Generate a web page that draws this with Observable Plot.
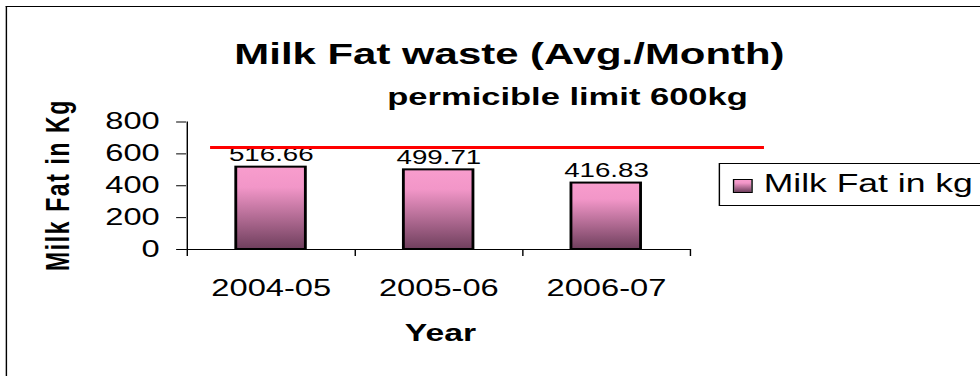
<!DOCTYPE html>
<html>
<head>
<meta charset="utf-8">
<script src="https://cdn.jsdelivr.net/npm/d3@7"></script>
<script src="https://cdn.jsdelivr.net/npm/@observablehq/plot@0.6"></script>
<style>
  html, body { margin: 0; padding: 0; background: #fff; }
  #page { position: relative; width: 980px; height: 376px; overflow: hidden; background: #fff; }
  #inner { position: absolute; left: 0; top: 0; width: 690px; height: 376px;
           transform: scaleX(1.42029); transform-origin: 0 0;
           font-family: "Liberation Sans", Arial, sans-serif; color: #000; }
  #inner svg { position: absolute; left: 0; top: 0; }
  .abs { position: absolute; white-space: nowrap; line-height: 1; }
  #border { position: absolute; left: 4.2px; top: 6px; width: 1000px; height: 1000px;
            border-left: 1px solid #000; border-top: 1px solid #000; }
  #title { font-weight: bold; font-size: 29.5px; left: 358.7px; top: 39px; transform: translateX(-50%); }
  #subtitle { font-weight: bold; font-size: 24.3px; left: 399.6px; top: 85.4px; transform: translateX(-50%); }
  #xlabel { font-weight: bold; font-size: 23.7px; left: 310.1px; top: 321.6px; transform: translateX(-50%); }
  #ylabel { font-weight: bold; font-size: 23px; letter-spacing: 1.6px; left: 41.2px; top: 184.5px;
            transform: translate(-50%, -50%) rotate(-90deg); }
  #legend { position: absolute; left: 506.2px; top: 163px; width: 300px; height: 41px; border: 1px solid #000; background: #fff; }
  #swatch { position: absolute; left: 8.5px; top: 15px; width: 12px; height: 12px; border: 1.5px solid #000;
            background: linear-gradient(to bottom, #f89dcd 0%, #f296c8 25%, #6f3f5d 100%); }
  #legendText { font-size: 25px; left: 30.5px; top: 7.2px; }
</style>
</head>
<body>
<div id="page"><div id="inner">
  <div id="border"></div>
  <div id="chart"></div>
  <div id="title" class="abs"></div>
  <div id="subtitle" class="abs"></div>
  <div id="xlabel" class="abs"></div>
  <div id="ylabel" class="abs"></div>
  <div id="legend"><div id="swatch"></div><div id="legendText" class="abs"></div></div>
</div></div>
<script>
// ---- data ----
const years = ["2004-05", "2005-06", "2006-07"];
const milkFat = [516.66, 499.71, 416.83];
const yTicks = [0, 200, 400, 600, 800];
const limitLine = 640;
const seriesName = "Milk Fat in kg";
const titleText = "Milk Fat waste (Avg./Month)";
const subtitleText = "permicible limit 600kg";
const xLabelText = "Year";
const yLabelText = "Milk Fat in Kg";

const data = years.map((year, i) => ({year, value: milkFat[i]}));

// ---- layout (unstretched coordinates) ----
const W = 690, H = 376;
const mL = 131, mR = 204.2, mT = 121.5, mB = 127;
const plotH = H - mT - mB;
const step = (W - mL - mR) / years.length;
const font = '"Liberation Sans", Arial, sans-serif';

const chart = Plot.plot({
  width: W, height: H,
  marginLeft: mL, marginRight: mR, marginTop: mT, marginBottom: mB,
  style: {fontFamily: font, fontSize: "23px", color: "#000", background: "transparent", overflow: "visible"},
  x: {domain: years, paddingInner: 0.583, paddingOuter: 0.2915, align: 0.5, label: null, tickSize: 0, tickPadding: 30},
  y: {domain: [0, 800], ticks: yTicks, label: null, tickSize: 7, tickPadding: 12},
  marks: [
    Plot.barY(data, {x: "year", y: "value", fill: "url(#barGrad)", stroke: "#000", strokeWidth: 2}),
    Plot.ruleY([0], {stroke: "#000", strokeWidth: 1}),
    Plot.tickX([years[0]], {x: d => d, dx: -step / 2, insetBottom: -7, stroke: "#000", strokeWidth: 1}),
    Plot.tickX(years, {x: d => d, dx: step / 2, insetTop: plotH, insetBottom: -7, stroke: "#000", strokeWidth: 1}),
    Plot.text(data, {x: "year", y: "value", text: d => d.value.toFixed(2), lineAnchor: "bottom", dy: -6, fontSize: 19.5, fill: "#000"}),
    Plot.ruleY([limitLine], {stroke: "#ff0000", strokeWidth: 3, insetLeft: 16.9, insetRight: -52.1})
  ]
});

d3.select(chart).insert("defs", ":first-child").html(
  '<linearGradient id="barGrad" x1="0" y1="0" x2="0" y2="1">' +
  '<stop offset="0%" stop-color="#f89dcd"/>' +
  '<stop offset="25%" stop-color="#f296c8"/>' +
  '<stop offset="100%" stop-color="#6f3f5d"/>' +
  '</linearGradient>'
);

document.getElementById("chart").appendChild(chart);
document.getElementById("title").textContent = titleText;
document.getElementById("subtitle").textContent = subtitleText;
document.getElementById("xlabel").textContent = xLabelText;
document.getElementById("ylabel").textContent = yLabelText;
document.getElementById("legendText").textContent = seriesName;
</script>
</body>
</html>
